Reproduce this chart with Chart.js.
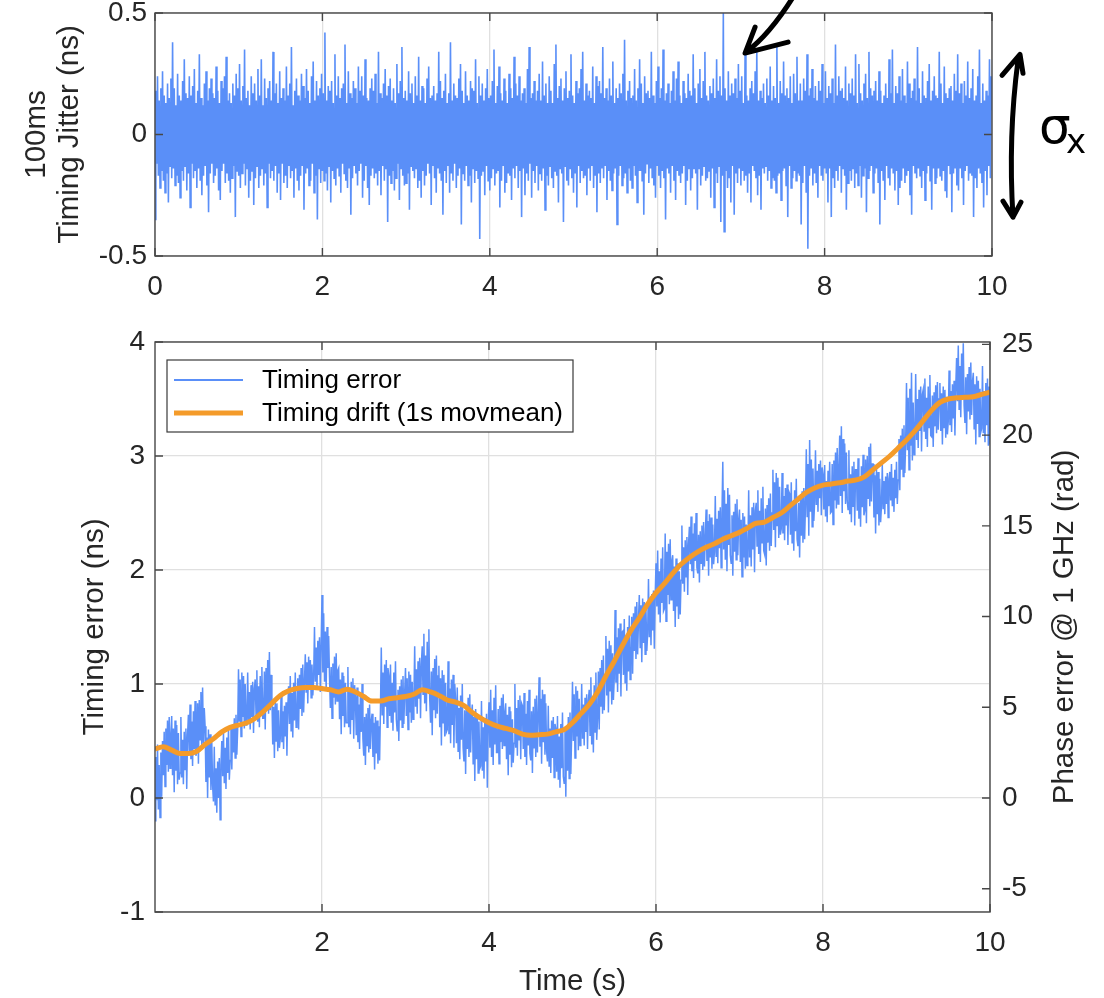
<!DOCTYPE html>
<html>
<head>
<meta charset="utf-8">
<script src="https://cdn.jsdelivr.net/npm/chart.js@4.4.1/dist/chart.umd.min.js"></script>
<style>
  html, body { margin: 0; padding: 0; background: #fff; }
  #wrap { position: relative; width: 1104px; height: 998px; overflow: hidden; background: #fff; }
  #wrap canvas { position: absolute; left: 0; }
  #cJit { top: -30px; }
  #cErr { top: 300px; }
</style>
</head>
<body>
<div id="wrap">
  <canvas id="cJit" width="1104" height="350"></canvas>
  <canvas id="cErr" width="1104" height="698"></canvas>
</div>
<script>
// ---- sampled data -------------------------------------------------------
const sampleStep = 0.01;   // s, timing error / jitter samples
const driftStep = 0.1;     // s, 1 s moving-mean samples

// 100 ms high-passed timing jitter (ns), one row per 0.1 s
const jitterNs = [
  -0.35,0.18,-0.12,0.24,-0.17,0.14,-0.22,0.19,-0.15,0.26,
  -0.19,0.16,-0.24,0.13,-0.16,0.21,-0.28,0.15,-0.13,0.23,
  -0.18,0.38,-0.14,0.19,-0.21,0.12,-0.17,0.25,-0.20,0.16,
  -0.26,0.14,-0.15,0.22,-0.19,0.31,-0.13,0.17,-0.23,0.15,
  -0.16,0.24,-0.30,0.16,-0.12,0.20,-0.18,0.27,-0.15,0.13,
  -0.22,0.18,-0.14,0.33,-0.19,0.15,-0.25,0.12,-0.17,0.21,
  -0.13,0.26,-0.21,0.14,-0.32,0.19,-0.16,0.23,-0.12,0.17,
  -0.20,0.15,-0.17,0.28,-0.14,0.18,-0.23,0.13,-0.27,0.22,
  -0.15,0.19,-0.12,0.24,-0.20,0.32,-0.16,0.14,-0.19,0.17,
  -0.24,0.13,-0.18,0.21,-0.13,0.16,-0.34,0.25,-0.15,0.19,
  -0.17,0.29,-0.22,0.14,-0.16,0.20,-0.12,0.35,-0.21,0.15,
  -0.14,0.18,-0.26,0.12,-0.19,0.24,-0.15,0.17,-0.29,0.21,
  -0.18,0.14,-0.13,0.27,-0.22,0.16,-0.17,0.31,-0.14,0.12,
  -0.21,0.23,-0.16,0.15,-0.30,0.19,-0.12,0.22,-0.18,0.14,
  -0.15,0.34,-0.19,0.17,-0.13,0.21,-0.24,0.13,-0.16,0.26,
  -0.27,0.15,-0.12,0.19,-0.20,0.14,-0.17,0.28,-0.22,0.16,
  -0.13,0.21,-0.18,0.36,-0.15,0.12,-0.26,0.18,-0.14,0.23,
  -0.19,0.16,-0.23,0.14,-0.17,0.25,-0.13,0.20,-0.31,0.15,
  -0.16,0.27,-0.14,0.18,-0.21,0.13,-0.19,0.24,-0.12,0.30,
  -0.24,0.14,-0.17,0.22,-0.35,0.16,-0.14,0.19,-0.20,0.25,
  -0.15,0.17,-0.19,0.42,-0.16,0.14,-0.23,0.20,-0.13,0.18,
  -0.28,0.22,-0.15,0.13,-0.18,0.33,-0.21,0.16,-0.14,0.24,
  -0.17,0.15,-0.24,0.19,-0.12,0.21,-0.16,0.37,-0.19,0.13,
  -0.22,0.26,-0.14,0.17,-0.33,0.15,-0.18,0.22,-0.13,0.19,
  -0.16,0.13,-0.21,0.28,-0.15,0.18,-0.12,0.24,-0.26,0.16,
  -0.19,0.31,-0.13,0.15,-0.22,0.14,-0.29,0.19,-0.17,0.23,
  -0.14,0.18,-0.18,0.25,-0.16,0.13,-0.21,0.34,-0.15,0.17,
  -0.25,0.15,-0.13,0.21,-0.19,0.27,-0.14,0.16,-0.36,0.20,
  -0.17,0.23,-0.20,0.14,-0.15,0.19,-0.23,0.13,-0.18,0.29,
  -0.12,0.17,-0.27,0.22,-0.14,0.36,-0.17,0.15,-0.21,0.18,
  -0.20,0.14,-0.16,0.26,-0.31,0.17,-0.13,0.21,-0.15,0.13,
  -0.18,0.24,-0.14,0.16,-0.22,0.32,-0.19,0.14,-0.26,0.20,
  -0.15,0.19,-0.21,0.13,-0.17,0.23,-0.12,0.28,-0.16,0.15,
  -0.29,0.16,-0.13,0.20,-0.18,0.14,-0.24,0.17,-0.14,0.34,
  -0.16,0.22,-0.19,0.15,-0.33,0.18,-0.15,0.25,-0.20,0.13,
  -0.13,0.17,-0.24,0.38,-0.16,0.14,-0.19,0.21,-0.12,0.16,
  -0.22,0.15,-0.17,0.23,-0.14,0.29,-0.37,0.18,-0.16,0.13,
  -0.19,0.26,-0.13,0.16,-0.21,0.14,-0.17,0.22,-0.28,0.19,
  -0.14,0.18,-0.20,0.31,-0.15,0.13,-0.18,0.24,-0.43,0.16,
  -0.17,0.21,-0.15,0.14,-0.25,0.19,-0.13,0.27,-0.19,0.15,
  -0.23,0.16,-0.18,0.22,-0.14,0.35,-0.21,0.13,-0.16,0.20,
  -0.15,0.28,-0.30,0.17,-0.19,0.14,-0.13,0.23,-0.24,0.18,
  -0.20,0.13,-0.16,0.25,-0.17,0.19,-0.27,0.15,-0.14,0.32,
  -0.18,0.21,-0.13,0.16,-0.22,0.24,-0.15,0.14,-0.34,0.17,
  -0.14,0.19,-0.25,0.13,-0.16,0.27,-0.19,0.36,-0.12,0.15,
  -0.26,0.17,-0.15,0.22,-0.20,0.14,-0.13,0.18,-0.23,0.25,
  -0.16,0.14,-0.19,0.30,-0.14,0.16,-0.31,0.21,-0.17,0.13,
  -0.21,0.24,-0.13,0.18,-0.18,0.13,-0.22,0.29,-0.15,0.37,
  -0.17,0.15,-0.28,0.20,-0.14,0.23,-0.16,0.14,-0.36,0.19,
  -0.13,0.26,-0.19,0.15,-0.21,0.18,-0.14,0.33,-0.18,0.16,
  -0.24,0.13,-0.16,0.22,-0.30,0.17,-0.13,0.19,-0.20,0.27,
  -0.15,0.34,-0.18,0.14,-0.17,0.21,-0.25,0.16,-0.14,0.18,
  -0.19,0.15,-0.13,0.28,-0.22,0.13,-0.17,0.24,-0.32,0.20,
  -0.16,0.22,-0.20,0.17,-0.14,0.36,-0.18,0.15,-0.13,0.19,
  -0.27,0.14,-0.15,0.23,-0.19,0.16,-0.23,0.30,-0.16,0.13,
  -0.14,0.19,-0.37,0.15,-0.17,0.21,-0.13,0.17,-0.21,0.25,
  -0.18,0.39,-0.16,0.14,-0.24,0.18,-0.14,0.22,-0.19,0.15,
  -0.22,0.16,-0.13,0.27,-0.17,0.14,-0.28,0.19,-0.15,0.31,
  -0.15,0.21,-0.19,0.13,-0.33,0.24,-0.16,0.17,-0.12,0.18,
  -0.20,0.15,-0.14,0.34,-0.18,0.16,-0.21,0.13,-0.26,0.22,
  -0.13,0.28,-0.17,0.15,-0.22,0.19,-0.15,0.35,-0.18,0.14,
  -0.35,0.17,-0.14,0.21,-0.16,0.13,-0.24,0.18,-0.13,0.26,
  -0.19,0.14,-0.27,0.23,-0.15,0.30,-0.17,0.16,-0.20,0.13,
  -0.16,0.22,-0.13,0.17,-0.29,0.15,-0.19,0.25,-0.14,0.18,
  -0.23,0.16,-0.18,0.33,-0.14,0.19,-0.16,0.13,-0.31,0.21,
  -0.14,0.27,-0.21,0.15,-0.17,0.22,-0.13,0.34,-0.19,0.16,
  -0.18,0.14,-0.15,0.20,-0.26,0.17,-0.14,0.23,-0.30,0.15,
  -0.16,0.31,-0.20,0.18,-0.13,0.24,-0.36,0.16,-0.17,0.50,
  -0.40,0.19,-0.15,0.14,-0.22,0.26,-0.18,0.16,-0.28,0.21,
  -0.13,0.17,-0.33,0.23,-0.16,0.15,-0.20,0.29,-0.14,0.18,
  -0.21,0.24,-0.15,0.13,-0.19,0.33,-0.17,0.16,-0.24,0.14,
  -0.16,0.19,-0.28,0.22,-0.13,0.17,-0.15,0.26,-0.18,0.35,
  -0.25,0.14,-0.17,0.18,-0.31,0.15,-0.14,0.21,-0.16,0.13,
  -0.13,0.23,-0.19,0.16,-0.15,0.28,-0.22,0.14,-0.18,0.20,
  -0.19,0.15,-0.24,0.36,-0.17,0.13,-0.16,0.22,-0.27,0.17,
  -0.15,0.30,-0.14,0.16,-0.21,0.19,-0.34,0.15,-0.13,0.24,
  -0.22,0.13,-0.18,0.25,-0.15,0.17,-0.19,0.32,-0.16,0.14,
  -0.17,0.21,-0.37,0.14,-0.20,0.23,-0.13,0.18,-0.24,0.33,
  -0.47,0.16,-0.17,0.19,-0.14,0.27,-0.21,0.15,-0.16,0.20,
  -0.20,0.14,-0.26,0.22,-0.13,0.18,-0.17,0.29,-0.19,0.13,
  -0.14,0.26,-0.16,0.15,-0.28,0.20,-0.14,0.17,-0.34,0.23,
  -0.18,0.13,-0.22,0.37,-0.15,0.16,-0.19,0.24,-0.13,0.18,
  -0.24,0.19,-0.14,0.15,-0.17,0.28,-0.31,0.14,-0.20,0.21,
  -0.15,0.17,-0.19,0.23,-0.14,0.16,-0.22,0.33,-0.16,0.13,
  -0.21,0.29,-0.13,0.17,-0.26,0.14,-0.17,0.21,-0.14,0.25,
  -0.32,0.15,-0.18,0.34,-0.15,0.19,-0.13,0.16,-0.24,0.18,
  -0.16,0.22,-0.14,0.14,-0.20,0.26,-0.37,0.18,-0.15,0.13,
  -0.19,0.16,-0.27,0.21,-0.13,0.15,-0.18,0.31,-0.21,0.17,
  -0.14,0.35,-0.16,0.13,-0.23,0.20,-0.15,0.17,-0.29,0.24,
  -0.22,0.14,-0.19,0.27,-0.14,0.16,-0.20,0.13,-0.17,0.30,
  -0.15,0.21,-0.25,0.15,-0.33,0.18,-0.13,0.23,-0.16,0.14,
  -0.18,0.36,-0.14,0.19,-0.17,0.13,-0.22,0.26,-0.15,0.16,
  -0.27,0.15,-0.16,0.22,-0.13,0.29,-0.19,0.14,-0.31,0.18,
  -0.14,0.24,-0.20,0.16,-0.18,0.15,-0.14,0.34,-0.17,0.21,
  -0.19,0.13,-0.15,0.28,-0.23,0.17,-0.26,0.15,-0.13,0.19,
  -0.16,0.20,-0.32,0.14,-0.16,0.25,-0.14,0.18,-0.21,0.33,
  -0.23,0.17,-0.14,0.21,-0.18,0.13,-0.29,0.22,-0.15,0.16,
  -0.13,0.30,-0.19,0.15,-0.16,0.19,-0.17,0.27,-0.34,0.14,
  -0.18,0.16,-0.22,0.24,-0.14,0.35,-0.16,0.13,-0.20,0.21,
  -0.30,0.14,-0.15,0.18,-0.25,0.16,-0.13,0.31,-0.18,0.24,
  0.10
];

// raw timing error (ns), one row per 0.1 s
const timingErrorNs = [
  -0.20,0.36,-0.02,0.47,-0.10,0.29,-0.17,0.40,0.01,0.50,
  0.20,0.58,0.10,0.61,0.29,0.68,0.23,0.71,0.26,0.55,
  0.72,0.20,0.61,0.05,0.68,0.24,0.64,0.12,0.57,0.16,
  0.22,0.71,0.18,0.51,0.12,0.58,0.25,0.61,0.08,0.55,
  0.73,0.40,0.82,0.34,0.67,0.28,0.76,0.43,0.85,0.37,
  0.41,0.83,0.30,0.86,0.51,0.93,0.44,0.97,0.48,0.79,
  0.63,0.14,0.53,0.00,0.60,0.18,0.56,0.07,0.49,0.11,
  -0.03,0.45,-0.06,0.26,-0.13,0.32,0.00,0.35,-0.19,0.29,
  0.50,0.19,0.58,0.13,0.44,0.08,0.53,0.22,0.61,0.16,
  0.33,0.63,0.25,0.65,0.40,0.70,0.35,0.73,0.38,0.60,
  1.13,0.67,1.04,0.54,1.10,0.71,1.07,0.61,1.00,0.64,
  0.68,1.10,0.65,0.93,0.60,0.99,0.71,1.02,0.57,0.96,
  1.04,0.73,1.12,0.67,0.98,0.62,1.07,0.76,1.15,0.70,
  0.70,1.11,0.60,1.14,0.80,1.21,0.74,1.28,0.77,1.08,
  0.89,0.47,0.80,0.35,0.86,0.50,0.83,0.41,0.77,0.44,
  0.52,0.92,0.49,0.76,0.43,0.81,0.54,0.84,0.37,0.79,
  0.98,0.65,1.07,0.59,0.92,0.53,1.01,0.68,1.10,0.62,
  0.69,1.05,0.60,1.08,0.78,1.14,0.72,1.17,0.75,1.02,
  1.26,0.93,1.19,0.83,1.24,0.95,1.21,0.88,1.17,0.90,
  1.05,1.50,1.02,1.32,0.96,1.38,1.08,1.41,0.93,1.35,
  1.78,1.10,1.62,1.02,1.46,0.94,1.50,1.14,1.42,1.06,
  0.79,1.15,0.70,1.18,0.88,1.24,0.82,1.27,0.85,1.12,
  1.14,0.69,1.04,0.56,1.10,0.72,1.07,0.62,1.01,0.66,
  0.66,1.15,0.62,0.95,0.56,1.02,0.69,1.05,0.52,0.99,
  0.88,0.55,0.97,0.49,0.82,0.43,0.91,0.58,1.00,0.52,
  0.37,0.71,0.29,0.74,0.46,0.79,0.40,0.82,0.43,0.68,
  0.74,0.36,0.66,0.25,0.71,0.39,0.68,0.30,0.63,0.33,
  0.77,1.32,0.73,1.10,0.65,1.17,0.80,1.21,0.62,1.14,
  1.07,0.72,1.17,0.66,1.01,0.59,1.10,0.75,1.20,0.69,
  0.59,0.95,0.50,0.98,0.68,1.04,0.62,1.07,0.65,0.92,
  1.14,0.72,1.05,0.60,1.11,0.75,1.08,0.66,1.02,0.69,
  0.84,1.33,0.80,1.13,0.74,1.20,0.87,1.23,0.70,1.17,
  1.33,0.91,1.44,0.83,1.25,0.76,1.37,0.95,1.48,0.87,
  0.66,1.11,0.55,1.14,0.77,1.22,0.70,1.25,0.74,1.07,
  1.16,0.62,1.05,0.46,1.12,0.66,1.08,0.54,1.01,0.58,
  0.60,1.20,0.56,0.96,0.48,1.04,0.64,1.08,0.44,1.00,
  0.86,0.48,0.97,0.41,0.79,0.34,0.90,0.51,1.00,0.44,
  0.32,0.77,0.21,0.80,0.43,0.88,0.36,0.91,0.40,0.73,
  0.82,0.30,0.71,0.15,0.78,0.34,0.74,0.22,0.67,0.26,
  0.28,0.85,0.24,0.62,0.17,0.70,0.32,0.74,0.09,0.66,
  0.84,0.44,0.95,0.36,0.77,0.29,0.88,0.47,0.99,0.40,
  0.40,0.78,0.30,0.81,0.49,0.88,0.43,0.91,0.46,0.75,
  0.83,0.34,0.73,0.20,0.80,0.38,0.76,0.27,0.69,0.31,
  0.48,1.00,0.44,0.79,0.37,0.86,0.51,0.90,0.34,0.83,
  0.81,0.43,0.92,0.36,0.74,0.29,0.85,0.46,0.95,0.39,
  0.33,0.76,0.22,0.80,0.44,0.87,0.36,0.90,0.40,0.72,
  1.06,0.45,0.87,0.30,0.95,0.49,0.91,0.38,0.83,0.41,
  0.32,0.81,0.28,0.61,0.22,0.68,0.35,0.71,0.18,0.65,
  0.61,0.23,0.72,0.16,0.54,0.09,0.65,0.26,0.75,0.19,
  0.13,0.60,0.01,0.63,0.24,0.71,0.17,0.75,0.21,0.56,
  1.02,0.50,0.91,0.35,0.98,0.54,0.94,0.42,0.87,0.46,
  0.55,1.00,0.52,0.82,0.46,0.88,0.58,0.91,0.43,0.85,
  0.95,0.55,1.06,0.47,0.88,0.40,0.99,0.58,1.10,0.51,
  0.70,1.11,0.60,1.14,0.80,1.21,0.74,1.25,0.77,1.08,
  1.42,0.90,1.31,0.75,1.38,0.94,1.34,0.82,1.27,0.86,
  1.05,1.65,1.01,1.41,0.93,1.49,1.09,1.53,0.89,1.45,
  1.46,1.08,1.57,1.01,1.39,0.94,1.50,1.11,1.60,1.04,
  1.19,1.59,1.09,1.62,1.29,1.68,1.22,1.72,1.26,1.55,
  1.78,1.32,1.69,1.19,1.75,1.36,1.72,1.26,1.65,1.29,
  1.44,1.92,1.41,1.73,1.34,1.79,1.47,1.82,1.31,1.76,
  2.06,1.68,2.17,1.61,1.99,1.54,2.10,1.71,2.20,1.64,
  1.66,2.32,1.55,2.16,1.78,2.23,1.70,2.27,1.74,2.08,
  2.13,1.64,2.03,1.50,2.10,1.68,2.06,1.57,1.99,1.61,
  1.91,2.39,1.88,2.20,1.81,2.26,1.94,2.29,1.78,2.23,
  2.38,2.05,2.47,1.99,2.32,1.93,2.41,2.08,2.50,2.02,
  1.97,2.31,1.89,2.34,2.06,2.39,2.00,2.42,2.03,2.28,
  2.53,2.08,2.43,1.95,2.49,2.11,2.46,2.01,2.40,2.05,
  2.16,2.65,2.12,2.45,2.06,2.52,2.19,2.55,2.02,2.49,
  2.95,2.18,2.70,2.09,2.58,1.99,2.72,2.22,2.66,2.13,
  2.06,2.48,1.95,2.51,2.16,2.58,2.09,2.62,2.13,2.44,
  2.53,2.07,2.44,1.94,2.50,2.11,2.47,2.01,2.40,2.04,
  2.15,2.70,2.11,2.48,2.03,2.55,2.18,2.59,1.98,2.52,
  2.59,2.21,2.70,2.14,2.52,2.07,2.63,2.24,2.73,2.17,
  2.14,2.54,2.04,2.57,2.24,2.63,2.17,2.67,2.21,2.50,
  2.88,2.35,2.77,2.20,2.85,2.39,2.81,2.28,2.73,2.31,
  2.36,2.85,2.32,2.65,2.26,2.72,2.39,2.75,2.22,2.69,
  2.67,2.31,2.77,2.24,2.60,2.17,2.70,2.34,2.80,2.27,
  2.21,2.59,2.11,2.62,2.30,2.69,2.24,2.72,2.27,2.56,
  3.06,2.47,2.93,2.30,3.14,2.51,2.97,2.38,2.89,2.43,
  2.60,3.05,2.57,2.87,2.51,2.93,2.63,2.96,2.48,2.90,
  2.84,2.53,2.92,2.47,2.78,2.42,2.87,2.56,2.95,2.50,
  2.51,2.93,2.40,2.96,2.61,3.03,2.54,3.07,2.58,2.89,
  3.18,2.65,3.26,2.50,3.15,2.69,3.11,2.58,3.03,2.61,
  2.53,3.05,2.49,2.84,2.42,2.91,2.56,2.95,2.39,2.88,
  2.88,2.52,2.98,2.45,2.81,2.38,2.91,2.55,3.01,2.48,
  2.52,2.97,2.41,3.00,2.63,3.08,2.56,3.11,2.60,2.93,
  2.93,2.46,2.83,2.32,2.90,2.49,2.86,2.39,2.80,2.42,
  2.56,2.92,2.54,2.78,2.49,2.82,2.58,2.85,2.46,2.80,
  2.86,2.61,2.93,2.56,2.81,2.51,2.88,2.63,2.95,2.58,
  2.79,3.15,2.70,3.18,2.88,3.24,2.82,3.27,2.85,3.12,
  3.64,3.05,3.51,2.88,3.59,3.09,3.73,2.96,3.47,3.01,
  3.18,3.72,3.14,3.50,3.07,3.58,3.22,3.61,3.04,3.54,
  3.58,3.22,3.68,3.15,3.51,3.08,3.61,3.25,3.71,3.18,
  3.17,3.53,3.08,3.56,3.26,3.62,3.20,3.65,3.23,3.50,
  3.64,3.22,3.55,3.10,3.61,3.25,3.58,3.16,3.52,3.19,
  3.30,3.75,3.27,3.57,3.21,3.63,3.33,3.66,3.18,3.60,
  3.86,3.48,3.97,3.41,3.79,3.34,3.90,3.51,3.99,3.44,
  3.29,3.69,3.19,3.72,3.39,3.78,3.32,3.82,3.36,3.65,
  3.73,3.24,3.63,3.10,3.70,3.28,3.66,3.17,3.59,3.21,
  3.24,3.79,3.20,3.57,3.12,3.64,3.27,3.68,3.09,3.61,
  3.10
];

// 1 s moving mean of the timing error (ns)
const timingDriftNs = [
  0.43,0.45,0.42,0.39,0.39,0.41,0.47,0.52,0.58,0.62,
  0.64,0.66,0.70,0.76,0.83,0.90,0.94,0.96,0.97,0.97,
  0.96,0.95,0.93,0.955,0.93,0.89,0.85,0.85,0.87,0.88,
  0.89,0.91,0.95,0.93,0.90,0.86,0.84,0.81,0.75,0.70,
  0.66,0.63,0.61,0.59,0.56,0.55,0.555,0.56,0.58,0.60,
  0.66,0.74,0.82,0.93,1.07,1.20,1.34,1.47,1.58,1.70,
  1.80,1.88,1.97,2.05,2.11,2.16,2.20,2.23,2.27,2.30,
  2.33,2.37,2.41,2.42,2.46,2.50,2.56,2.62,2.68,2.72,
  2.745,2.755,2.765,2.78,2.79,2.82,2.88,2.94,3.00,3.07,
  3.14,3.22,3.31,3.40,3.47,3.50,3.51,3.515,3.52,3.54,
  3.56
];

// axis ticks
const timeTicksTop = [0, 2, 4, 6, 8, 10];
const timeTicksBottom = [2, 4, 6, 8, 10];
const jitterTicks = [-0.5, 0, 0.5];
const errorTicks = [-1, 0, 1, 2, 3, 4];
const phaseTicks = [-5, 0, 5, 10, 15, 20, 25];

const CARRIER_GHZ = 1;                          // phase axis reference
const RAD_PER_NS = 2 * Math.PI * CARRIER_GHZ;

// ---- styling -------------------------------------------------------------
const FONT = '"Liberation Sans", Arial, Helvetica, sans-serif';
const INK = '#262626';
const FRAME = '#474747';
const GRID = '#e0e0e0';
const BLUE = '#5a8ff8';
const ORANGE = '#f49b2a';
const TICK_FONT = { family: FONT, size: 28 };
const TITLE_FONT = { family: FONT, size: 29.5, lineHeight: 1.1 };

Chart.defaults.font.family = FONT;
Chart.defaults.color = INK;

function toPoints(values, step) {
  return values.map((v, i) => ({ x: Math.round(i * step * 1000) / 1000, y: v }));
}
function fixTicks(list) {
  return scale => { scale.ticks = list.map(v => ({ value: v })); };
}

// box + inward tick marks on every axis
const axesFrame = {
  id: 'axesFrame',
  afterDatasetsDraw(chart, args, opts) {
    const { ctx, chartArea: a, scales } = chart;
    const L = 8;
    ctx.save();
    ctx.strokeStyle = FRAME;
    ctx.lineWidth = 1.4;
    ctx.beginPath();
    scales.x.ticks.forEach(tk => {
      const p = scales.x.getPixelForValue(tk.value);
      ctx.moveTo(p, a.bottom); ctx.lineTo(p, a.bottom - L);
      ctx.moveTo(p, a.top); ctx.lineTo(p, a.top + L);
    });
    scales.y.ticks.forEach(tk => {
      const p = scales.y.getPixelForValue(tk.value);
      ctx.moveTo(a.left, p); ctx.lineTo(a.left + L, p);
      if (opts.mirrorY) { ctx.moveTo(a.right, p); ctx.lineTo(a.right - L, p); }
    });
    if (scales.y2) {
      scales.y2.ticks.forEach(tk => {
        const p = scales.y2.getPixelForValue(tk.value);
        ctx.moveTo(a.right, p); ctx.lineTo(a.right - L, p);
      });
    }
    ctx.stroke();
    ctx.strokeRect(a.left, a.top, a.right - a.left, a.bottom - a.top);
    ctx.restore();
  }
};

// hand-drawn pointer, spread arrow and sigma label beside the jitter trace
const penMarks = {
  id: 'penMarks',
  afterDraw(chart) {
    const { ctx, chartArea: a, scales: { x, y } } = chart;
    ctx.save();
    ctx.strokeStyle = '#000';
    ctx.lineWidth = 5;
    ctx.lineCap = 'round';
    ctx.lineJoin = 'round';

    const tx = x.getPixelForValue(7.05), ty = y.getPixelForValue(0.335);
    ctx.beginPath();
    ctx.moveTo(tx + 48, ty - 56);
    ctx.quadraticCurveTo(tx + 24, ty - 18, tx + 1, ty - 1);
    ctx.moveTo(tx + 10, ty - 26);
    ctx.lineTo(tx, ty);
    ctx.lineTo(tx + 43, ty - 11);
    ctx.stroke();

    const ax = a.right + 22;
    const yTop = y.getPixelForValue(0.33), yBot = y.getPixelForValue(-0.34);
    ctx.beginPath();
    ctx.moveTo(ax + 4, yTop + 6);
    ctx.quadraticCurveTo(ax - 6, (yTop + yBot) / 2, ax - 1, yBot);
    ctx.moveTo(ax - 12, yTop + 21);
    ctx.lineTo(ax + 6, yTop);
    ctx.lineTo(ax + 9, yTop + 19);
    ctx.moveTo(ax - 11, yBot - 16);
    ctx.lineTo(ax - 1, yBot);
    ctx.lineTo(ax + 7, yBot - 15);
    ctx.stroke();

    ctx.fillStyle = '#000';
    ctx.textBaseline = 'alphabetic';
    ctx.textAlign = 'left';
    ctx.font = '50px "DejaVu Sans", sans-serif';
    ctx.fillText('σ', a.right + 47, y.getPixelForValue(-0.035));
    ctx.font = '34px "DejaVu Sans", sans-serif';
    ctx.fillText('x', a.right + 74, y.getPixelForValue(-0.078));
    ctx.restore();
  }
};

// boxed legend in the upper-left of the plot area
const boxedLegend = {
  id: 'boxedLegend',
  afterDatasetsDraw(chart) {
    const { ctx, chartArea: a } = chart;
    const bx = a.left + 12, by = a.top + 18, bw = 406, bh = 72;
    ctx.save();
    ctx.fillStyle = '#fff';
    ctx.fillRect(bx, by, bw, bh);
    ctx.strokeStyle = '#3a3a3a';
    ctx.lineWidth = 1.2;
    ctx.strokeRect(bx, by, bw, bh);
    ctx.font = '26px ' + FONT;
    ctx.textBaseline = 'middle';
    ctx.textAlign = 'left';
    chart.data.datasets.forEach((ds, i) => {
      const rowY = by + 20 + i * 33;
      ctx.strokeStyle = ds.borderColor;
      ctx.lineWidth = i === 0 ? 2 : ds.borderWidth;
      ctx.beginPath();
      ctx.moveTo(bx + 7, rowY);
      ctx.lineTo(bx + 76, rowY);
      ctx.stroke();
      ctx.fillStyle = '#000';
      ctx.fillText(ds.label, bx + 95, rowY + 1);
    });
    ctx.restore();
  }
};

// right-hand phase axis title, reading bottom to top
const phaseTitle = {
  id: 'phaseTitle',
  afterDraw(chart) {
    const { ctx, chartArea: a } = chart;
    ctx.save();
    ctx.translate(a.right + 75, (a.top + a.bottom) / 2);
    ctx.rotate(-Math.PI / 2);
    ctx.font = '29.5px ' + FONT;
    ctx.fillStyle = INK;
    ctx.textAlign = 'center';
    ctx.textBaseline = 'middle';
    ctx.fillText('Phase error @ 1 GHz (rad)', 0, 0);
    ctx.restore();
  }
};

// ---- upper panel: jitter ------------------------------------------------
new Chart(document.getElementById('cJit'), {
  type: 'line',
  data: {
    datasets: [{
      label: '100ms timing jitter',
      data: toPoints(jitterNs, sampleStep),
      borderColor: BLUE,
      borderWidth: 1.6,
      pointRadius: 0,
      tension: 0,
      fill: false
    }]
  },
  options: {
    responsive: false,
    animation: false,
    devicePixelRatio: 1,
    events: [],
    layout: { padding: { left: 0, right: 112, top: 43, bottom: 0 } },
    plugins: { legend: { display: false }, tooltip: { enabled: false }, axesFrame: { mirrorY: true } },
    scales: {
      x: {
        type: 'linear', min: 0, max: 10,
        afterBuildTicks: fixTicks(timeTicksTop),
        afterFit: s => { s.height = 64; },
        grid: { color: GRID, lineWidth: 1.3, drawTicks: false },
        border: { display: false },
        ticks: { font: TICK_FONT, color: INK, padding: 14, maxRotation: 0 }
      },
      y: {
        type: 'linear', min: -0.5, max: 0.5,
        afterBuildTicks: fixTicks(jitterTicks),
        afterFit: s => { s.width = 155; },
        grid: { color: GRID, lineWidth: 1.3, drawTicks: false },
        border: { display: false },
        ticks: { font: TICK_FONT, color: INK, padding: 8 },
        title: {
          display: true,
          text: ['100ms', 'Timing Jitter (ns)'],
          font: TITLE_FONT, color: INK,
          padding: { top: 21, bottom: 0 }
        }
      }
    }
  },
  plugins: [axesFrame, penMarks]
});

// ---- lower panel: timing error and drift ---------------------------------
new Chart(document.getElementById('cErr'), {
  type: 'line',
  data: {
    datasets: [{
      label: 'Timing error',
      data: toPoints(timingErrorNs, sampleStep),
      borderColor: BLUE,
      borderWidth: 1.5,
      pointRadius: 0,
      tension: 0,
      fill: false,
      order: 2,
      yAxisID: 'y'
    }, {
      label: 'Timing drift (1s movmean)',
      data: toPoints(timingDriftNs, driftStep),
      borderColor: ORANGE,
      borderWidth: 5,
      pointRadius: 0,
      cubicInterpolationMode: 'monotone',
      fill: false,
      order: 1,
      yAxisID: 'y'
    }]
  },
  options: {
    responsive: false,
    animation: false,
    devicePixelRatio: 1,
    events: [],
    layout: { padding: { left: 0, right: 0, top: 42, bottom: 0 } },
    plugins: { legend: { display: false }, tooltip: { enabled: false }, axesFrame: { mirrorY: false } },
    scales: {
      x: {
        type: 'linear', min: 0, max: 10,
        afterBuildTicks: fixTicks(timeTicksBottom),
        afterFit: s => { s.height = 86; },
        grid: { color: GRID, lineWidth: 1.3, drawTicks: false },
        border: { display: false },
        ticks: { font: TICK_FONT, color: INK, padding: 14, maxRotation: 0 },
        title: { display: true, text: 'Time (s)', font: TITLE_FONT, color: INK, padding: { top: 0, bottom: 0 } }
      },
      y: {
        type: 'linear', position: 'left', min: -1, max: 4,
        afterBuildTicks: fixTicks(errorTicks),
        afterFit: s => { s.width = 155; },
        grid: { color: GRID, lineWidth: 1.3, drawTicks: false },
        border: { display: false },
        ticks: { font: TICK_FONT, color: INK, padding: 10 },
        title: { display: true, text: 'Timing error (ns)', font: TITLE_FONT, color: INK, padding: { top: 79, bottom: 0 } }
      },
      y2: {
        type: 'linear', position: 'right',
        min: errorTicks[0] * RAD_PER_NS,
        max: errorTicks[errorTicks.length - 1] * RAD_PER_NS,
        afterBuildTicks: fixTicks(phaseTicks),
        afterFit: s => { s.width = 114; },
        grid: { display: false, drawTicks: false },
        border: { display: false },
        ticks: { font: TICK_FONT, color: INK, padding: 12 }
      }
    }
  },
  plugins: [axesFrame, boxedLegend, phaseTitle]
});
</script>
</body>
</html>
